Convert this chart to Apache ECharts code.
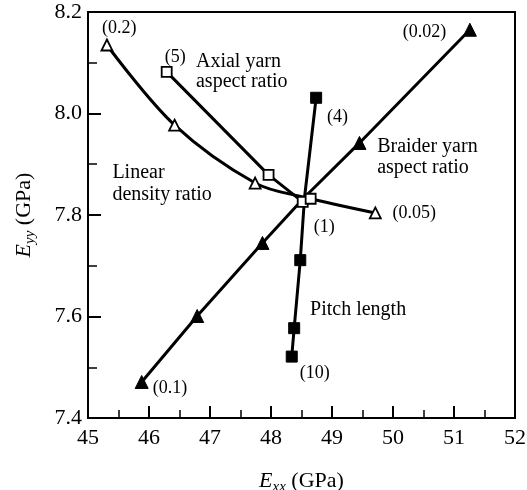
<!DOCTYPE html>
<html>
<head>
<meta charset="utf-8">
<script src="https://cdn.jsdelivr.net/npm/echarts@6/dist/echarts.min.js"></script>
<style>
  html, body { margin: 0; padding: 0; background: #fff; }
  #chart { width: 527px; height: 490px; }
</style>
</head>
<body>
<div id="chart"></div>
<script>
// Axis ranges (GPa)
const xTicks = [45, 46, 47, 48, 49, 50, 51, 52];
const yTicks = [7.4, 7.6, 7.8, 8.0, 8.2];

// Baseline design point shared by all four parameter sweeps
const baseline = [48.55, 7.835];

// Linear density ratio sweep, 0.2 -> 0.05 (open triangles)
const linearDensity = [[45.31, 8.135], [46.42, 7.977], [47.74, 7.863], baseline, [49.71, 7.804]];
// Axial yarn aspect ratio sweep, 5 -> 1 (open squares)
const axialYarn = [[46.29, 8.082], [47.96, 7.879], [48.52, 7.826], [48.65, 7.832]];
// Braider yarn aspect ratio sweep, 0.1 -> 0.02 (filled triangles)
const braiderYarn = [[45.88, 7.471], [46.79, 7.601], [47.86, 7.745], baseline, [49.45, 7.942], [51.26, 8.165]];
// Pitch length sweep, 10 -> 4 (filled squares)
const pitchLength = [[48.34, 7.521], [48.38, 7.577], [48.48, 7.711], baseline, [48.74, 8.031]];

// Annotation texts and their anchor (left edge, vertical centre) in data units
const notes = [
  { text: '(0.2)', at: [45.23, 8.168], small: true },
  { text: '(5)', at: [46.26, 8.111], small: true },
  { text: 'Axial yarn', at: [46.77, 8.101] },
  { text: 'aspect ratio', at: [46.77, 8.062] },
  { text: 'Linear', at: [45.40, 7.883] },
  { text: 'density ratio', at: [45.40, 7.839] },
  { text: '(0.02)', at: [50.16, 8.161], small: true },
  { text: '(4)', at: [48.92, 7.993], small: true },
  { text: 'Braider yarn', at: [49.74, 7.934] },
  { text: 'aspect ratio', at: [49.74, 7.893] },
  { text: '(0.05)', at: [49.99, 7.804], small: true },
  { text: '(1)', at: [48.70, 7.776], small: true },
  { text: 'Pitch length', at: [48.64, 7.613] },
  { text: '(10)', at: [48.47, 7.489], small: true },
  { text: '(0.1)', at: [46.06, 7.459], small: true }
];

const SERIF = '"Liberation Serif", "DejaVu Serif", serif';
const INK = '#000';

// Hide the marker at the shared baseline point on the swept curves
function markBaseline(points) {
  return points.map(p => p === baseline ? { value: p, symbol: 'none' } : p);
}

function axisName(sub) {
  return {
    text: '{i|E}{s|' + sub + '}{n| (GPa)}',
    rich: {
      i: { fontFamily: SERIF, fontStyle: 'italic', fontSize: 22, lineHeight: 27, color: INK },
      s: { fontFamily: SERIF, fontStyle: 'italic', fontSize: 15, lineHeight: 15, verticalAlign: 'bottom', color: INK },
      n: { fontFamily: SERIF, fontSize: 22, lineHeight: 27, color: INK }
    }
  };
}

const xName = axisName('xx');
const yName = axisName('yy');

const chart = echarts.init(document.getElementById('chart'), null, { renderer: 'canvas' });

const tickStyle = { color: INK, width: 2 };
const minorStyle = { color: INK, width: 1.5 };

const option = {
  backgroundColor: '#fff',
  animation: false,
  grid: {
    left: 88, right: 12, top: 12, bottom: 72,
    containLabel: false, outerBoundsMode: 'none',
    show: true, borderColor: INK, borderWidth: 2, backgroundColor: 'transparent'
  },
  xAxis: {
    type: 'value',
    min: xTicks[0], max: xTicks[xTicks.length - 1], interval: 1,
    name: xName.text,
    nameLocation: 'middle', nameGap: 50,
    nameTextStyle: { rich: xName.rich },
    axisLine: { show: true, onZero: false, lineStyle: { color: INK, width: 2 } },
    axisTick: { show: true, inside: true, length: 12, lineStyle: tickStyle },
    minorTick: { show: true, splitNumber: 2, length: 8, lineStyle: minorStyle },
    splitLine: { show: false },
    minorSplitLine: { show: false },
    axisLabel: { color: INK, fontFamily: SERIF, fontSize: 22, margin: 9 }
  },
  yAxis: {
    type: 'value',
    min: yTicks[0], max: yTicks[yTicks.length - 1], interval: 0.2,
    name: yName.text,
    nameLocation: 'middle', nameGap: 50, nameRotate: 90,
    nameTextStyle: { rich: yName.rich },
    axisLine: { show: true, onZero: false, lineStyle: { color: INK, width: 2 } },
    axisTick: { show: true, inside: true, length: 13, lineStyle: tickStyle },
    minorTick: { show: true, splitNumber: 2, length: 9, lineStyle: minorStyle },
    splitLine: { show: false },
    minorSplitLine: { show: false },
    axisLabel: { color: INK, fontFamily: SERIF, fontSize: 22, margin: 6, formatter: v => v.toFixed(1) }
  },
  series: [
    {
      name: 'Linear density ratio', type: 'line', smooth: 0.35,
      data: markBaseline(linearDensity),
      symbol: 'triangle', symbolSize: 11, z: 3,
      lineStyle: { color: INK, width: 3 },
      itemStyle: { color: '#fff', borderColor: INK, borderWidth: 1.8 }
    },
    {
      name: 'Braider yarn aspect ratio', type: 'line',
      data: markBaseline(braiderYarn),
      symbol: 'triangle', symbolSize: 13, z: 3,
      lineStyle: { color: INK, width: 3 },
      itemStyle: { color: INK, borderColor: INK, borderWidth: 1 }
    },
    {
      name: 'Pitch length', type: 'line',
      data: markBaseline(pitchLength),
      symbol: 'rect', symbolSize: 11, z: 3,
      lineStyle: { color: INK, width: 3 },
      itemStyle: { color: INK, borderColor: INK, borderWidth: 1 }
    },
    {
      name: 'Axial yarn aspect ratio', type: 'line',
      data: axialYarn,
      symbol: 'rect', symbolSize: 10, z: 5,
      lineStyle: { color: INK, width: 3 },
      itemStyle: { color: '#fff', borderColor: INK, borderWidth: 1.8 }
    }
  ]
};

chart.setOption(option);

// Place the curve annotations at their data-space anchors
const graphics = notes.map(n => {
  const p = chart.convertToPixel({ gridIndex: 0 }, n.at);
  return {
    type: 'text', x: p[0], y: p[1], z: 10,
    style: {
      text: n.text, fill: INK, fontFamily: SERIF,
      fontSize: n.small ? 18 : 20,
      textAlign: 'left', textVerticalAlign: 'middle'
    }
  };
});
chart.setOption({ graphic: graphics });
</script>
</body>
</html>
